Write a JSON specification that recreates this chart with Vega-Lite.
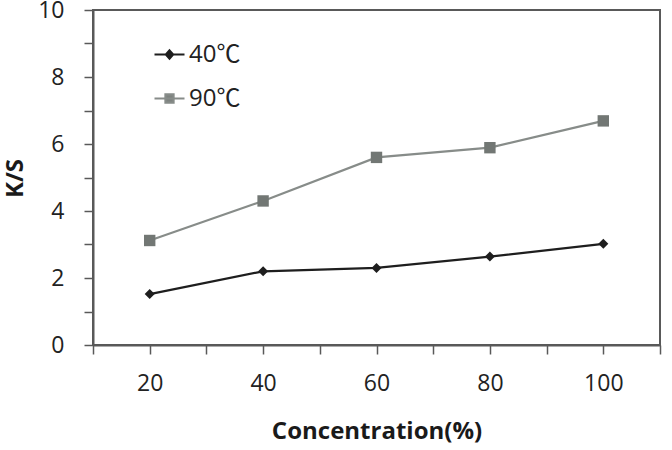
{
  "$schema": "https://vega.github.io/schema/vega-lite/v6.json",
  "width": 567,
  "height": 335,
  "autosize": {"type": "none"},
  "padding": {"left": 93, "top": 10, "right": 12, "bottom": 105},
  "background": "white",
  "config": {
    "view": {"stroke": "#595959", "strokeWidth": 2},
    "font": "Open Sans",
    "axis": {
      "grid": false,
      "domainColor": "#595959",
      "domainWidth": 2,
      "tickColor": "#595959",
      "tickWidth": 1.5,
      "tickSize": 9,
      "labelFont": "Open Sans",
      "labelFontSize": 23,
      "labelColor": "#222222",
      "titleFont": "Open Sans",
      "titleFontSize": 24,
      "titleFontWeight": "bold",
      "titleColor": "#1a1a1a"
    },
    "legend": {
      "title": null,
      "padding": 0,
      "symbolSize": 900,
      "symbolStrokeWidth": 2.2,
      "symbolOpacity": 1,
      "rowPadding": 15,
      "labelOffset": 3,
      "labelFont": "Open Sans, Noto Sans CJK KR",
      "labelFontSize": 24,
      "labelColor": "#222222"
    }
  },
  "data": {
    "values": [
      {"concentration": 20, "ks": 1.52, "series": "40℃"},
      {"concentration": 40, "ks": 2.2, "series": "40℃"},
      {"concentration": 60, "ks": 2.3, "series": "40℃"},
      {"concentration": 80, "ks": 2.64, "series": "40℃"},
      {"concentration": 100, "ks": 3.02, "series": "40℃"},
      {"concentration": 20, "ks": 3.12, "series": "90℃"},
      {"concentration": 40, "ks": 4.3, "series": "90℃"},
      {"concentration": 60, "ks": 5.6, "series": "90℃"},
      {"concentration": 80, "ks": 5.89, "series": "90℃"},
      {"concentration": 100, "ks": 6.69, "series": "90℃"}
    ]
  },
  "encoding": {
    "x": {
      "field": "concentration",
      "type": "quantitative",
      "scale": {"domain": [10, 110], "nice": false, "zero": false},
      "axis": {
        "title": "Concentration(%)",
        "values": [10, 20, 30, 40, 50, 60, 70, 80, 90, 100, 110],
        "labelExpr": "datum.value % 20 == 0 ? datum.label : ''",
        "labelPadding": 18,
        "titleY": 74,
        "titleBaseline": "top"
      }
    },
    "y": {
      "field": "ks",
      "type": "quantitative",
      "scale": {"domain": [0, 10], "nice": false},
      "axis": {
        "title": "K/S",
        "values": [0, 1, 2, 3, 4, 5, 6, 7, 8, 9, 10],
        "labelExpr": "datum.value % 2 == 0 ? datum.label : ''",
        "labelPadding": 20,
        "titleAngle": -90,
        "titleX": -66,
        "titleY": 168,
        "titleAlign": "center",
        "titleBaseline": "bottom"
      }
    }
  },
  "layer": [
    {
      "transform": [{"filter": "datum.series == '40℃'"}],
      "mark": {"type": "line", "strokeWidth": 2.2, "color": "#1e1e1e"}
    },
    {
      "transform": [{"filter": "datum.series == '90℃'"}],
      "mark": {"type": "line", "strokeWidth": 2.2, "color": "#878c89"}
    },
    {
      "transform": [{"filter": "datum.series == '40℃'"}],
      "mark": {"type": "point", "shape": "diamond", "filled": true, "size": 100, "opacity": 1, "color": "#1e1e1e"}
    },
    {
      "transform": [{"filter": "datum.series == '90℃'"}],
      "mark": {"type": "point", "shape": "square", "filled": true, "size": 130, "opacity": 1, "color": "#727774"}
    },
    {
      "transform": [{"filter": "datum.ks < 0"}],
      "mark": {"type": "point", "filled": true},
      "encoding": {
        "color": {
          "field": "series",
          "type": "nominal",
          "scale": {"domain": ["40℃", "90℃"], "range": ["#1e1e1e", "#7d827f"]},
          "legend": {"orient": "none", "legendX": 60, "legendY": 28}
        },
        "stroke": {
          "field": "series",
          "type": "nominal",
          "scale": {"domain": ["40℃", "90℃"], "range": ["#1e1e1e", "#878c89"]},
          "legend": {"orient": "none", "legendX": 60, "legendY": 28}
        },
        "shape": {
          "field": "series",
          "type": "nominal",
          "scale": {
            "domain": ["40℃", "90℃"],
            "range": [
              "M-1,0H1M0,-0.27L0.24,0L0,0.27L-0.24,0Z",
              "M-1,0H1M-0.27,-0.27H0.27V0.27H-0.27Z"
            ]
          },
          "legend": {"orient": "none", "legendX": 60, "legendY": 28}
        }
      }
    }
  ]
}
